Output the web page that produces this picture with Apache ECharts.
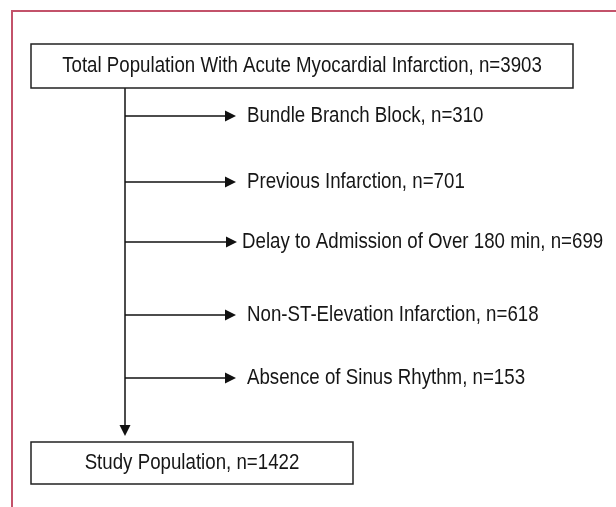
<!DOCTYPE html>
<html>
<head>
<meta charset="utf-8">
<script src="https://cdn.jsdelivr.net/npm/echarts@6/dist/echarts.min.js"></script>
<style>
  html, body { margin: 0; padding: 0; background: #fff; }
  #flow { width: 616px; height: 507px; }
</style>
</head>
<body>
<div id="flow"></div>
<script>
// Data
const totalLabel = 'Total Population With Acute Myocardial Infarction';
const totalCount = 3903;
const exclusionLabels = [
  'Bundle Branch Block',
  'Previous Infarction',
  'Delay to Admission of Over 180 min',
  'Non-ST-Elevation Infarction',
  'Absence of Sinus Rhythm'
];
const exclusionCounts = [310, 701, 699, 618, 153];
const studyLabel = 'Study Population';
const studyCount = 1422;

// Layout (page pixels, mapped through hidden value axes)
const topBox = { x0: 31, y0: 44, x1: 573, y1: 88 };
const bottomBox = { x0: 31, y0: 442, x1: 353, y1: 484 };
const trunkX = 125;
const branchY = [116, 182, 242, 315, 378];
const arrowTipX = [236, 236, 237, 236, 236];
const labelX = [247, 247, 242, 247, 247];
const arrowLen = 11;

// no condensed font installed, so squeeze a normal sans
const font = '"Liberation Sans", Arial, sans-serif';
const fontSize = 22;
const squeeze = 0.85;

// boxes + texts
const boxData = [
  [topBox.x0, topBox.y0, topBox.x1, topBox.y1, totalLabel + ', n=' + totalCount],
  [bottomBox.x0, bottomBox.y0, bottomBox.x1, bottomBox.y1, studyLabel + ', n=' + studyCount]
];
const labelData = exclusionLabels.map((name, i) => [labelX[i], branchY[i], name + ', n=' + exclusionCounts[i]]);

// arrows (end point is the centre of the arrow head)
const arrowData = [{ coords: [[trunkX, topBox.y1], [trunkX, bottomBox.y0 - 6 - arrowLen / 2]] }];
exclusionLabels.forEach((name, i) => {
  arrowData.push({ coords: [[trunkX, branchY[i]], [arrowTipX[i] - arrowLen / 2, branchY[i]]] });
});

function textEl(x, y, str, align) {
  return {
    type: 'text',
    x: x,
    y: y,
    scaleX: squeeze,
    style: {
      text: str,
      fontFamily: font,
      fontSize: fontSize,
      fill: '#161616',
      align: align,
      verticalAlign: 'middle'
    }
  };
}

var chart = echarts.init(document.getElementById('flow'));
chart.setOption({
  animation: false,
  grid: { left: 0, right: 0, top: 0, bottom: 0 },
  xAxis: { type: 'value', min: 0, max: 616, show: false },
  yAxis: { type: 'value', min: 0, max: 507, inverse: true, show: false },
  graphic: [{
    type: 'polyline',
    shape: { points: [[12, 507], [12, 11], [616, 11]] },
    style: { stroke: '#c3526a', lineWidth: 2, fill: null }
  }],
  series: [
    {
      type: 'lines',
      coordinateSystem: 'cartesian2d',
      symbol: ['none', 'triangle'],
      symbolSize: [9, arrowLen],
      lineStyle: { color: '#111', width: 1.5, opacity: 1 },
      data: arrowData
    },
    {
      type: 'custom',
      renderItem: function (params, api) {
        const p0 = api.coord([api.value(0), api.value(1)]);
        const p1 = api.coord([api.value(2), api.value(3)]);
        return {
          type: 'group',
          children: [
            {
              type: 'rect',
              shape: { x: p0[0], y: p0[1], width: p1[0] - p0[0], height: p1[1] - p0[1] },
              style: { fill: '#fff', stroke: '#222', lineWidth: 1.5 }
            },
            textEl((p0[0] + p1[0]) / 2, (p0[1] + p1[1]) / 2, api.value(4), 'center')
          ]
        };
      },
      encode: { x: [0, 2], y: [1, 3] },
      data: boxData
    },
    {
      type: 'custom',
      renderItem: function (params, api) {
        const p = api.coord([api.value(0), api.value(1)]);
        return textEl(p[0], p[1], api.value(2), 'left');
      },
      encode: { x: 0, y: 1 },
      data: labelData
    }
  ]
});
</script>
</body>
</html>
